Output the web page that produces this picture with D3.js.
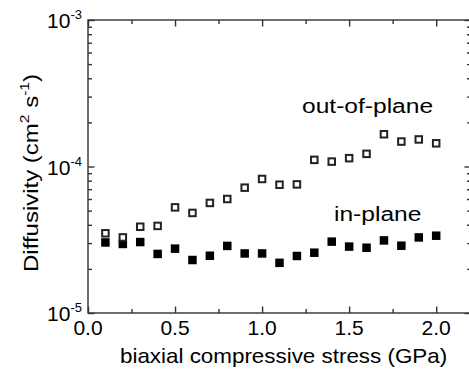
<!DOCTYPE html>
<html>
<head>
<meta charset="utf-8">
<script src="https://cdn.jsdelivr.net/npm/d3@7"></script>
<style>
  body { margin: 0; background: #fff; }
  svg { display: block; }
  text { font-family: "Liberation Sans", Arial, sans-serif; fill: #000; }
  .axis path, .axis line { stroke: #333; stroke-width: 1.4; }
</style>
</head>
<body>
<div id="chart"></div>
<script>
"use strict";

// stress (GPa)
const stress = [0.1, 0.2, 0.3, 0.4, 0.5, 0.6, 0.7, 0.8, 0.9, 1.0,
                1.1, 1.2, 1.3, 1.4, 1.5, 1.6, 1.7, 1.8, 1.9, 2.0];
// diffusivity (cm^2 s^-1)
const outOfPlane = [3.5e-5, 3.28e-5, 3.88e-5, 3.93e-5, 5.26e-5, 4.82e-5, 5.64e-5, 6.0e-5, 7.17e-5, 8.22e-5,
                    7.51e-5, 7.55e-5, 1.11e-4, 1.08e-4, 1.14e-4, 1.22e-4, 1.66e-4, 1.48e-4, 1.53e-4, 1.44e-4];
const inPlane = [3.03e-5, 2.96e-5, 3.05e-5, 2.53e-5, 2.75e-5, 2.30e-5, 2.46e-5, 2.87e-5, 2.55e-5, 2.55e-5,
                 2.20e-5, 2.45e-5, 2.58e-5, 3.07e-5, 2.84e-5, 2.79e-5, 3.13e-5, 2.88e-5, 3.28e-5, 3.37e-5];

const xMajor = [0.0, 0.5, 1.0, 1.5, 2.0];
const xMinor = [0.25, 0.75, 1.25, 1.75];
const yMajorExp = [-5, -4, -3];

const W = 469, H = 374;
const margin = { left: 88, top: 20, bottom: 61 };
const plotRight = 471;

const svg = d3.select("#chart").append("svg")
    .attr("width", W)
    .attr("height", H);

const x = d3.scaleLinear().domain([0, 2.2]).range([margin.left, plotRight]);
const y = d3.scaleLog().domain([1e-5, 1e-3]).range([H - margin.bottom, margin.top]);

const yMajor = yMajorExp.map(e => Math.pow(10, e));
const yMinor = y.ticks().filter(v => yMajor.indexOf(v) < 0);

const x0 = x.range()[0], x1 = x.range()[1];
const y0 = y.range()[0], y1 = y.range()[1];

// axes, ticks pointing inward
function addAxis(axis, tx, ty) {
    const g = svg.append("g")
        .attr("class", "axis")
        .attr("transform", "translate(" + tx + "," + ty + ")")
        .call(axis);
    g.selectAll("text").remove();
    g.select(".domain").remove();
    return g;
}

addAxis(d3.axisBottom(x).tickValues(xMajor).tickSizeInner(-6.5).tickSizeOuter(0), 0, y0);
addAxis(d3.axisBottom(x).tickValues(xMinor).tickSizeInner(-4).tickSizeOuter(0), 0, y0);
addAxis(d3.axisTop(x).tickValues(xMajor).tickSizeInner(-6.5).tickSizeOuter(0), 0, y1);
addAxis(d3.axisTop(x).tickValues(xMinor).tickSizeInner(-4).tickSizeOuter(0), 0, y1);
addAxis(d3.axisLeft(y).tickValues(yMajor).tickSizeInner(-6.5).tickSizeOuter(0), x0, 0);
addAxis(d3.axisLeft(y).tickValues(yMinor).tickSizeInner(-4).tickSizeOuter(0), x0, 0);
addAxis(d3.axisRight(y).tickValues(yMajor).tickSizeInner(-6.5).tickSizeOuter(0), x1, 0);
addAxis(d3.axisRight(y).tickValues(yMinor).tickSizeInner(-4).tickSizeOuter(0), x1, 0);

// frame
svg.append("rect")
    .attr("x", x0).attr("y", y1)
    .attr("width", x1 - x0).attr("height", y0 - y1)
    .attr("fill", "none")
    .attr("stroke", "#333")
    .attr("stroke-width", 1.4);

// x tick labels
svg.append("g").selectAll("text")
    .data(xMajor)
    .enter().append("text")
    .attr("x", d => x(d))
    .attr("y", y0 + 22)
    .attr("text-anchor", "middle")
    .style("font-size", "21px")
    .text(d3.format(".1f"));

// y tick labels 10^n
const yl = svg.append("g").selectAll("text")
    .data(yMajorExp)
    .enter().append("text")
    .attr("x", x0 - 6)
    .attr("y", d => y(Math.pow(10, d)) + 8)
    .attr("text-anchor", "end")
    .style("font-size", "21px");
yl.append("tspan").text("10");
yl.append("tspan")
    .attr("dy", -9)
    .style("font-size", "13px")
    .text(d => "-" + Math.abs(d));

// markers
const sq = 8.5;
svg.append("g").selectAll("rect")
    .data(stress)
    .enter().append("rect")
    .attr("x", (d, i) => x(d) - sq / 2)
    .attr("y", (d, i) => y(inPlane[i]) - sq / 2)
    .attr("width", sq).attr("height", sq)
    .attr("fill", "#000");

const os = 6.5;
svg.append("g").selectAll("rect")
    .data(stress)
    .enter().append("rect")
    .attr("x", (d, i) => x(d) - os / 2)
    .attr("y", (d, i) => y(outOfPlane[i]) - os / 2)
    .attr("width", os).attr("height", os)
    .attr("fill", "#fff")
    .attr("stroke", "#222")
    .attr("stroke-width", 2);

// text stretched a little sideways, like the original
function label(tx, ty, size, sx, rot) {
    return svg.append("text")
        .attr("transform", "translate(" + tx + "," + ty + ")" + (rot ? " rotate(" + rot + ")" : "") + " scale(" + sx + ",1)")
        .style("font-size", size + "px");
}

// series annotations
label(302, 113, 21, 1.17).text("out-of-plane");
label(334, 221, 21, 1.17).text("in-plane");

// axis titles
label(120, 363, 20, 1.12).text("biaxial compressive stress (GPa)");

const yt = label(38, 272, 20, 1.2, -90);
yt.append("tspan").text("Diffusivity (cm");
yt.append("tspan").attr("dy", -9).style("font-size", "13px").text("2");
yt.append("tspan").attr("dy", 9).text(" s");
yt.append("tspan").attr("dy", -9).style("font-size", "13px").text("-1");
yt.append("tspan").attr("dy", 9).text(")");
</script>
</body>
</html>
